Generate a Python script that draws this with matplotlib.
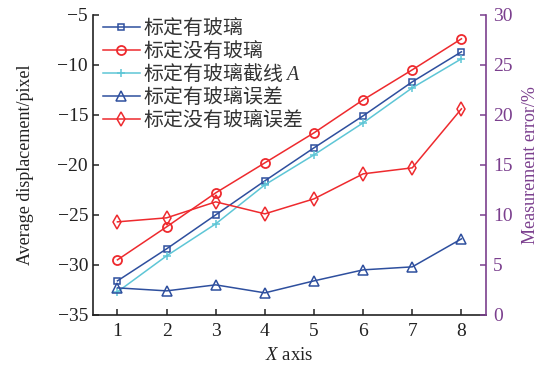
import matplotlib
matplotlib.use("Agg")
import matplotlib.pyplot as plt

plt.rcParams['font.family'] = ['Liberation Serif', 'Noto Sans CJK SC', 'DejaVu Sans']
plt.rcParams['mathtext.fontset'] = 'custom'
plt.rcParams['mathtext.rm'] = 'Noto Sans CJK SC'
plt.rcParams['mathtext.it'] = 'Liberation Serif:italic'
plt.rcParams['mathtext.bf'] = 'Liberation Serif:bold'

x = [1, 2, 3, 4, 5, 6, 7, 8]
with_glass = [-31.6, -28.4, -25.0, -21.6, -18.3, -15.1, -11.7, -8.7]
without_glass = [-29.5, -26.2, -22.8, -19.8, -16.8, -13.5, -10.5, -7.4]
with_glass_A = [-32.7, -29.1, -25.9, -22.0, -19.0, -15.8, -12.3, -9.4]
err_with_glass = [2.7, 2.4, 3.0, 2.2, 3.4, 4.5, 4.8, 7.6]
err_without_glass = [9.3, 9.7, 11.3, 10.1, 11.6, 14.1, 14.7, 20.6]

labels = [r'$\mathrm{标定有玻璃}$', r'$\mathrm{标定没有玻璃}$', r'$\mathrm{标定有玻璃截线}\ A$',
          r'$\mathrm{标定有玻璃误差}$', r'$\mathrm{标定没有玻璃误差}$']

blue = '#2e4f9e'
red = '#ee2a2e'
cyan = '#5ec6d6'
purple = '#7b3f8e'

fig = plt.figure(figsize=(5.4, 3.7), dpi=100)
ax = fig.add_axes([0.172, 0.149, 0.728, 0.811])
ax2 = ax.twinx()

l1, = ax.plot(x, with_glass, color=blue, lw=1.1, marker='s', ms=5, mfc='none', mew=1.1, label=labels[0])
l2, = ax.plot(x, without_glass, color=red, lw=1.1, marker='o', ms=6.5, mfc='none', mew=1.3, label=labels[1])
l3, = ax.plot(x, with_glass_A, color=cyan, lw=1.1, marker='+', ms=6, mew=1.1, label=labels[2])
l4, = ax2.plot(x, err_with_glass, color=blue, lw=1.1, marker='^', ms=7, mfc='none', mew=1.1, label=labels[3])
l5, = ax2.plot(x, err_without_glass, color=red, lw=1.1, marker='d', ms=7, mfc='none', mew=1.1, label=labels[4])

ax.set_xlim(0.5, 8.5)
ax.set_ylim(-35, -5)
ax2.set_ylim(0, 30)
ax.set_xticks(x)
ax.set_yticks(range(-35, -4, 5))
ax2.set_yticks(range(0, 31, 5))

for a in (ax, ax2):
    a.spines['top'].set_visible(False)
ax.spines['right'].set_visible(False)
ax2.spines['left'].set_visible(False)
ax2.spines['bottom'].set_visible(False)
ax.spines['left'].set_color('#222222')
ax.spines['bottom'].set_color('#222222')
ax2.spines['right'].set_color(purple)
for s in ('left', 'bottom'):
    ax.spines[s].set_linewidth(1.2)
ax2.spines['right'].set_linewidth(1.2)

ax.tick_params(axis='both', direction='in', length=4, width=1.1, labelsize=14, colors='#222222')
ax.tick_params(axis='x', pad=6)
ax2.tick_params(axis='y', direction='in', length=4, width=1.1, labelsize=14, colors=purple, pad=5)

ax.set_xlabel('$X$ axis', fontsize=13.5, labelpad=5, color='#222222')
ax.set_ylabel('Average displacement/pixel', fontsize=13, labelpad=17, color='#222222')
ax2.set_ylabel('Measurement error/%', fontsize=13, color=purple, labelpad=7)

ax2.legend(handles=[l1, l2, l3, l4, l5], loc='upper left', bbox_to_anchor=(0.0, 1.03),
           frameon=False, fontsize=14.3, handlelength=1.85, handletextpad=0.15,
           labelspacing=0.0, borderaxespad=0.3, borderpad=0.2, labelcolor='#333333')

fig.savefig('out.png', dpi=100)
